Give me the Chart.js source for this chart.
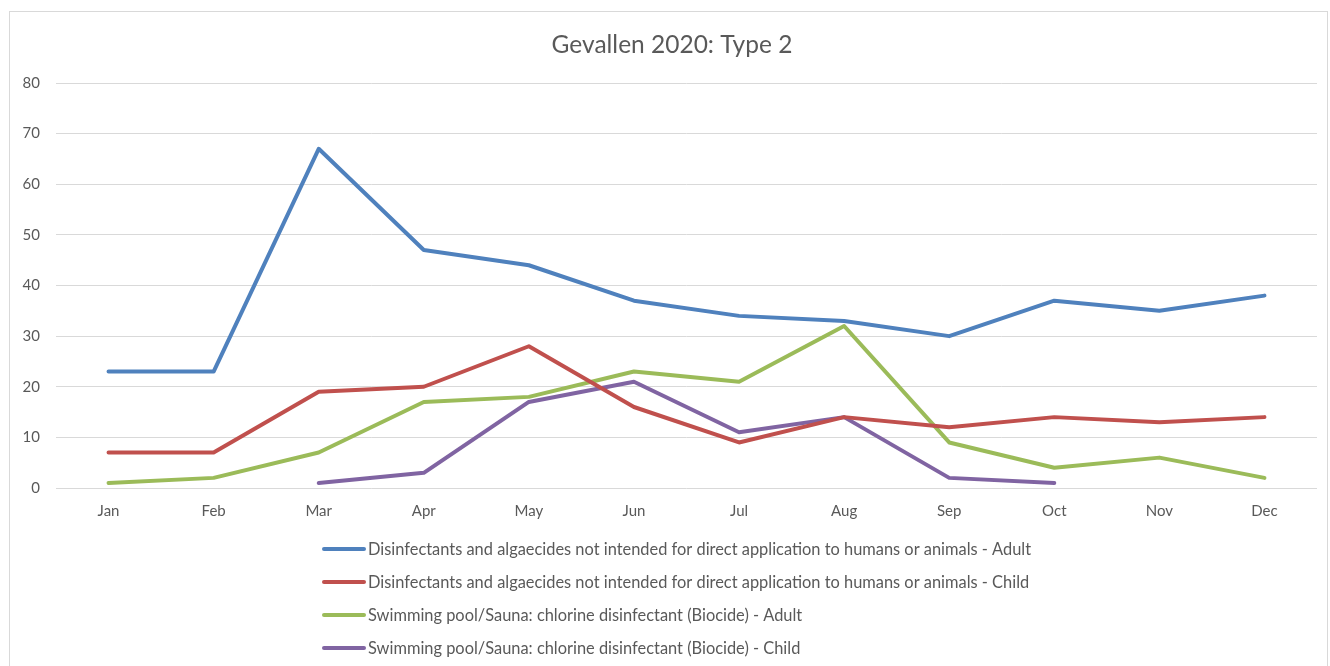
<!DOCTYPE html>
<html>
<head>
<meta charset="utf-8">
<script src="https://cdn.jsdelivr.net/npm/chart.js@4/dist/chart.umd.min.js"></script>
<style>
  html, body { margin: 0; padding: 0; background: #fff; }
  canvas { display: block; }
</style>
</head>
<body>
<canvas id="myChart" width="1330" height="666"></canvas>
<script>
const months = ['Jan', 'Feb', 'Mar', 'Apr', 'May', 'Jun', 'Jul', 'Aug', 'Sep', 'Oct', 'Nov', 'Dec'];
const yTicks = [0, 10, 20, 30, 40, 50, 60, 70, 80];
const chartTitle = 'Gevallen 2020: Type 2';

const seriesNames = [
  'Disinfectants and algaecides not intended for direct application to humans or animals - Adult',
  'Disinfectants and algaecides not intended for direct application to humans or animals - Child',
  'Swimming pool/Sauna: chlorine disinfectant (Biocide) - Adult',
  'Swimming pool/Sauna: chlorine disinfectant (Biocide) - Child'
];
const disinfAdult = [23, 23, 67, 47, 44, 37, 34, 33, 30, 37, 35, 38];
const disinfChild = [7, 7, 19, 20, 28, 16, 9, 14, 12, 14, 13, 14];
const poolAdult = [1, 2, 7, 17, 18, 23, 21, 32, 9, 4, 6, 2];
const poolChild = [null, null, 1, 3, 17, 21, 11, 14, 2, 1, null, null];

const colors = ['#4F81BD', '#C0504D', '#9BBB59', '#8064A2'];
const textColor = '#595959';
const fontFamily = 'Lato, "Open Sans", sans-serif';

const ctx = document.getElementById('myChart');

const makeSet = (i, values) => ({
  label: seriesNames[i],
  data: values,
  borderColor: colors[i],
  backgroundColor: colors[i],
  borderWidth: 4,
  borderCapStyle: 'round',
  borderJoinStyle: 'round',
  pointRadius: 0,
  pointHoverRadius: 0,
  tension: 0,
  spanGaps: false,
});

// frame, title and the stacked legend below the plot
const decor = {
  id: 'decor',
  beforeDraw(chart) {
    const c = chart.ctx;
    c.save();
    c.fillStyle = '#fff';
    c.fillRect(0, 0, chart.width, chart.height);
    c.strokeStyle = '#d9d9d9';
    c.lineWidth = 1;
    c.strokeRect(9.5, 11.5, 1318, 700);
    c.restore();
  },
  afterDraw(chart) {
    const c = chart.ctx;
    const area = chart.chartArea;
    c.save();
    c.fillStyle = textColor;
    c.font = '24.5px ' + fontFamily;
    c.textAlign = 'center';
    c.textBaseline = 'middle';
    c.fillText(chartTitle, 672, 45);

    c.font = '16.4px ' + fontFamily;
    c.textAlign = 'left';
    const sets = chart.data.datasets;
    const maxW = Math.max(...sets.map(d => c.measureText(d.label).width));
    const x0 = Math.round((chart.width - (44 + maxW)) / 2) + 13;
    sets.forEach((d, i) => {
      const y = area.bottom + 61 + i * 33;
      c.strokeStyle = d.borderColor;
      c.lineWidth = 4;
      c.lineCap = 'round';
      c.beginPath();
      c.moveTo(x0, y);
      c.lineTo(x0 + 40, y);
      c.stroke();
      c.fillStyle = textColor;
      c.fillText(d.label, x0 + 44, y + 1);
    });
    c.restore();
  }
};

new Chart(ctx, {
  type: 'line',
  data: {
    labels: months,
    datasets: [
      makeSet(0, disinfAdult),
      makeSet(1, disinfChild),
      makeSet(2, poolAdult),
      makeSet(3, poolChild),
    ],
  },
  options: {
    responsive: false,
    animation: false,
    layout: {
      padding: { top: 83, right: 13, bottom: 143, left: 0 }
    },
    plugins: {
      legend: { display: false },
      title: { display: false },
      tooltip: { enabled: false },
    },
    scales: {
      x: {
        offset: true,
        grid: { display: false, drawTicks: false },
        border: { display: false },
        ticks: {
          color: textColor,
          font: { family: fontFamily, size: 15 },
          padding: 14,
          maxRotation: 0,
        },
        afterFit: scale => { scale.height = 35; },
      },
      y: {
        min: 0,
        max: 80,
        afterBuildTicks: scale => { scale.ticks = yTicks.map(v => ({ value: v })); },
        grid: { color: '#d9d9d9', lineWidth: 1, drawTicks: false },
        border: { display: false },
        ticks: {
          color: textColor,
          font: { family: fontFamily, size: 15 },
          padding: 16,
        },
        afterFit: scale => { scale.width = 56; },
      },
    },
  },
  plugins: [decor],
});
</script>
</body>
</html>
